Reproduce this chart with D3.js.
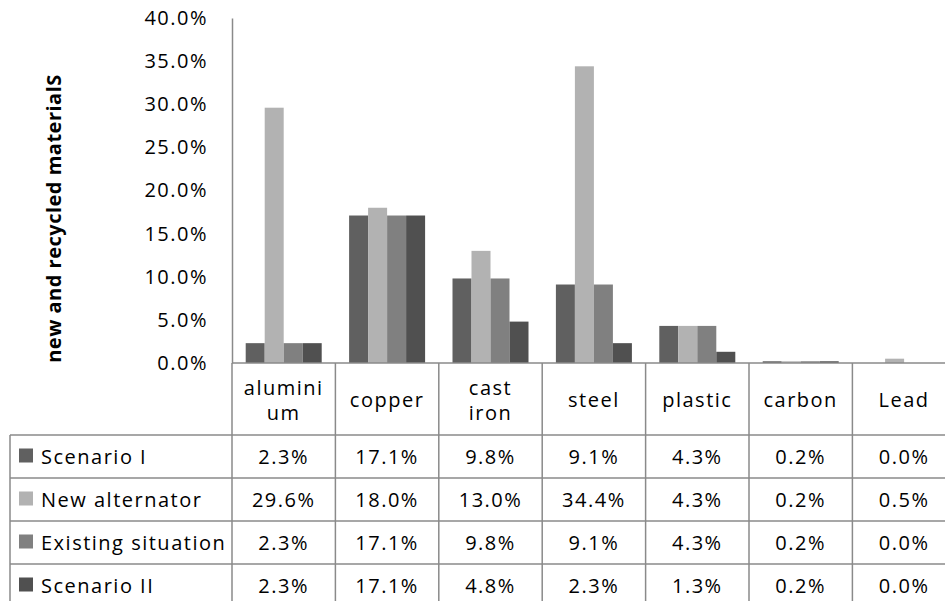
<!DOCTYPE html>
<html>
<head>
<meta charset="utf-8">
<script src="https://cdn.jsdelivr.net/npm/d3@7"></script>
<style>
  html, body { margin: 0; padding: 0; background: #fff; }
  svg { display: block; font-family: 'Open Sans', sans-serif; letter-spacing: 1.5px; }
</style>
</head>
<body>
<svg id="chart" width="945" height="601"></svg>
<script>
const categories = ['aluminium', 'copper', 'cast iron', 'steel', 'plastic', 'carbon', 'Lead']
const categoryLabels = [['alumini', 'um'], ['copper'], ['cast', 'iron'], ['steel'], ['plastic'], ['carbon'], ['Lead']]
const seriesNames = ['Scenario I', 'New alternator', 'Existing situation', 'Scenario II']
const scenarioI = [2.3, 17.1, 9.8, 9.1, 4.3, 0.2, 0.0]
const newAlternator = [29.6, 18.0, 13.0, 34.4, 4.3, 0.2, 0.5]
const existingSituation = [2.3, 17.1, 9.8, 9.1, 4.3, 0.2, 0.0]
const scenarioII = [2.3, 17.1, 4.8, 2.3, 1.3, 0.2, 0.0]
const yTicks = [0, 5, 10, 15, 20, 25, 30, 35, 40]
const seriesColors = ['#606060', '#b2b2b2', '#808080', '#505050']

const series = [scenarioI, newAlternator, existingSituation, scenarioII]

const plotLeft = 232
const plotTop = 18
const baseline = 363
const colWidth = 103.4
const tableLeft = 10
const headerBottom = 435
const rowHeight = 43
const lineColor = '#8a8a8a'
const fontSize = 20

const svg = d3.select('#chart')

const x = d3
  .scaleBand()
  .domain(categories)
  .range([plotLeft, plotLeft + colWidth * categories.length])

const x1 = d3
  .scaleBand()
  .domain(seriesNames)
  .range([13.7, colWidth - 13.7])

const y = d3.scaleLinear().domain([0, 40]).range([baseline, plotTop])

const rows = d3
  .scaleBand()
  .domain(seriesNames)
  .range([headerBottom, headerBottom + rowHeight * seriesNames.length])

// bars
const groups = svg
  .append('g')
  .selectAll('g')
  .data(categories)
  .join('g')
  .attr('transform', (d) => `translate(${x(d)},0)`)

groups
  .selectAll('rect')
  .data((d, i) => seriesNames.map((s, j) => ({ s, j, v: series[j][i] })))
  .join('rect')
  .attr('x', (d) => x1(d.s))
  .attr('width', x1.bandwidth())
  .attr('y', (d) => y(d.v))
  .attr('height', (d) => baseline - y(d.v))
  .attr('fill', (d) => seriesColors[d.j])

// y axis
const yAxis = svg
  .append('g')
  .attr('transform', `translate(${plotLeft},0)`)
  .call(
    d3
      .axisLeft(y)
      .tickValues(yTicks)
      .tickSize(0)
      .tickPadding(24)
      .tickFormat((d) => d.toFixed(1) + '%')
  )
yAxis.select('.domain').attr('stroke', lineColor).attr('stroke-width', 1.5)
yAxis
  .selectAll('text')
  .attr('font-family', "'Open Sans', sans-serif")
  .attr('font-size', fontSize)
  .attr('fill', '#000')

svg
  .append('text')
  .attr('transform', `translate(61, ${(plotTop + baseline) / 2 + 28}) rotate(-90)`)
  .attr('text-anchor', 'middle')
  .attr('font-size', 20)
  .attr('font-weight', 'bold')
  .style('letter-spacing', '0.5px')
  .text('new and recycled materialS')

// table grid
const tableRight = x.range()[1]
const tableBottom = rows.range()[1]
const grid = svg.append('g').attr('stroke', lineColor).attr('stroke-width', 1.5)

grid
  .append('line')
  .attr('x1', plotLeft)
  .attr('x2', tableRight)
  .attr('y1', baseline)
  .attr('y2', baseline)

grid
  .selectAll('.hline')
  .data(seriesNames.concat(['end']))
  .join('line')
  .attr('x1', tableLeft)
  .attr('x2', tableRight)
  .attr('y1', (d, i) => headerBottom + i * rowHeight)
  .attr('y2', (d, i) => headerBottom + i * rowHeight)

grid
  .selectAll('.vline')
  .data(categories.concat(['end']))
  .join('line')
  .attr('x1', (d, i) => plotLeft + i * colWidth)
  .attr('x2', (d, i) => plotLeft + i * colWidth)
  .attr('y1', baseline)
  .attr('y2', tableBottom)

grid
  .append('line')
  .attr('x1', tableLeft)
  .attr('x2', tableLeft)
  .attr('y1', headerBottom)
  .attr('y2', tableBottom)

// header labels
svg
  .append('g')
  .selectAll('text')
  .data(categories)
  .join('text')
  .attr('x', (d) => x(d) + colWidth / 2)
  .attr('y', (d, i) => (baseline + headerBottom) / 2 - (categoryLabels[i].length - 1) * 12.5)
  .attr('text-anchor', 'middle')
  .attr('dominant-baseline', 'central')
  .attr('font-size', fontSize)
  .each(function (d, i) {
    d3.select(this)
      .selectAll('tspan')
      .data(categoryLabels[i])
      .join('tspan')
      .attr('x', x(d) + colWidth / 2)
      .attr('dy', (t, k) => (k === 0 ? 0 : 25))
      .text((t) => t)
  })

// legend rows
const legendRows = svg
  .append('g')
  .selectAll('g')
  .data(seriesNames)
  .join('g')
  .attr('transform', (d) => `translate(0,${rows(d) + rows.bandwidth() / 2})`)

legendRows
  .append('rect')
  .attr('x', 19)
  .attr('y', -8)
  .attr('width', 14)
  .attr('height', 14)
  .attr('fill', (d, i) => seriesColors[i])

legendRows
  .append('text')
  .attr('x', 41)
  .attr('dominant-baseline', 'central')
  .attr('font-size', fontSize)
  .text((d) => d)

legendRows
  .selectAll('.val')
  .data((d, j) => categories.map((c, i) => ({ c, v: series[j][i] })))
  .join('text')
  .attr('x', (d) => x(d.c) + colWidth / 2)
  .attr('text-anchor', 'middle')
  .attr('dominant-baseline', 'central')
  .attr('font-size', fontSize)
  .text((d) => d.v.toFixed(1) + '%')
</script>
</body>
</html>
